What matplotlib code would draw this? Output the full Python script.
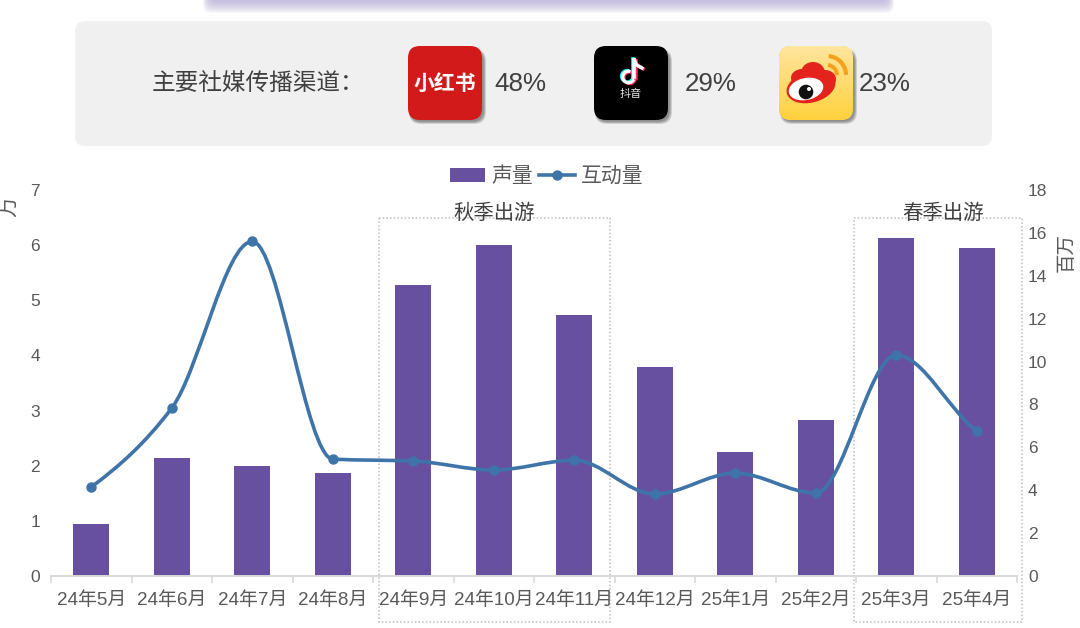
import numpy as np
import matplotlib
matplotlib.use("Agg")
import matplotlib.pyplot as plt
from matplotlib.patches import FancyBboxPatch, Rectangle, Ellipse, Circle, Arc, PathPatch, Patch
from matplotlib.path import Path
from matplotlib.lines import Line2D

plt.rcParams['font.family'] = ['Liberation Sans', 'Noto Sans CJK SC', 'DejaVu Sans']

# ---- data ----
months = ['24年5月', '24年6月', '24年7月', '24年8月', '24年9月', '24年10月',
          '24年11月', '24年12月', '25年1月', '25年2月', '25年3月', '25年4月']
voice = [0.94, 2.14, 2.00, 1.87, 5.28, 6.00, 4.73, 3.79, 2.25, 2.83, 6.13, 5.95]      # 万
interaction = [4.15, 7.83, 15.6, 5.45, 5.36, 4.94, 5.40, 3.82, 4.80, 3.87, 10.3, 6.76]  # 百万
left_ticks = [0, 1, 2, 3, 4, 5, 6, 7]
right_ticks = [0, 2, 4, 6, 8, 10, 12, 14, 16, 18]
share_labels = ['48%', '29%', '23%']
panel_title = '主要社媒传播渠道：'
season_labels = ['秋季出游', '春季出游']

BAR = '#67509f'
LINE = '#3f74a9'
GREY = '#595959'
DARK = '#404040'

W, H = 1080, 628
fig = plt.figure(figsize=(W / 100, H / 100), dpi=100, facecolor='white')

# ---- pixel-space backdrop ----
bg = fig.add_axes([0, 0, 1, 1], zorder=0)
bg.set_xlim(0, W)
bg.set_ylim(H, 0)
bg.axis('off')


def rbox(x0, y0, x1, y1, r, **kw):
    p = FancyBboxPatch((x0 + r, y0 + r), x1 - x0 - 2 * r, y1 - y0 - 2 * r,
                       boxstyle=f'round,pad={r},rounding_size={r}', linewidth=0, **kw)
    bg.add_patch(p)
    return p


# soft lavender shadow of the cropped banner at the top
for i in range(12):
    rbox(203 + i * 0.6, -30, 894 - i * 0.6, 13 - i * 1.0, 8, facecolor='#a79bd0', alpha=0.07)

# grey panel
rbox(75, 21, 992, 146, 10, facecolor='#f0f0f0')
bg.text(152, 84.5, panel_title, fontsize=17, color=DARK, va='center', ha='left')
for x, s in zip([494, 685, 859], share_labels):
    bg.text(x, 84, s, fontsize=18.7, color=DARK, va='center', ha='left')


def icon_base(x0, color):
    y0, y1, x1 = 46, 120, x0 + 74
    for i in range(5):
        rbox(x0 + 1 + i * 0.3, y0 + 3 + i * 0.3, x1 + 4 - i * 0.6, y1 + 4 - i * 0.6, 12,
             facecolor='#404040', alpha=0.14)
    return rbox(x0, y0, x1, y1, 12, facecolor=color)


# 小红书
icon_base(408, '#d21a1a')
bg.text(445, 84.5, '小红书', fontsize=15, fontweight='bold', color='white', ha='center', va='center')

# 抖音
icon_base(594, '#000000')
for dx, dy, c in [(-1.2, -0.8, '#25f4ee'), (1.2, 0.8, '#fe2c55'), (0, 0, '#ffffff')]:
    bg.add_patch(Arc((628.5 + dx, 77 + dy), 11.5, 11.5, theta1=0, theta2=290, color=c, lw=2.3))
    bg.add_line(Line2D([634.3 + dx, 634.3 + dx], [60 + dy, 77 + dy], color=c, lw=2.6))
    bg.add_line(Line2D([634.5 + dx, 636.5 + dx, 642 + dx], [60 + dy, 65 + dy, 68 + dy], color=c, lw=2.4))
bg.text(631, 94, '抖音', fontsize=8, color='#e6e6e6', ha='center', va='center')

# 微博
base = icon_base(779, '#ffd23f')
top = np.array([1.0, 0.90, 0.62]) * np.ones((64, 1, 3))
bot = np.array([1.0, 0.82, 0.24]) * np.ones((64, 1, 3))
t = np.linspace(0, 1, 64)[:, None, None]
im = bg.imshow(top * (1 - t) + bot * t, extent=(779, 853, 120, 46), aspect='auto', zorder=1.5)
im.set_clip_path(base)
bg.set_xlim(0, W)
bg.set_ylim(H, 0)
for (cx, cy, w, h, ang) in [(811, 87, 50, 31, -15), (813, 73, 24, 22, 0), (802, 78, 22, 18, 0),
                            (825, 79, 22, 18, 0)]:
    bg.add_patch(Ellipse((cx, cy), w, h, angle=ang, color='#e3231c', lw=0, zorder=2))
bg.add_patch(Ellipse((806, 89), 35, 22, angle=-12, color='white', lw=0, zorder=3))
bg.add_patch(Circle((806, 92), 7.3, color='#111111', lw=0, zorder=4))
bg.add_patch(Circle((809, 89), 2, color='white', lw=0, zorder=5))
for r, lw in [(19, 3.0), (10, 2.8)]:
    bg.add_patch(Arc((827, 75), r * 2, r * 2, theta1=275, theta2=360, color='#f7a11b', lw=lw, zorder=3))

# dotted frames of the two seasons
for (x0, x1) in [(379, 610), (853.5, 1022)]:
    bg.add_patch(Rectangle((x0, 218), x1 - x0, 404, fill=False, edgecolor='#bdbdbd',
                           linewidth=1.1, linestyle=(0, (1, 1.4))))
bg.text(494, 213.5, season_labels[0], fontsize=14.7, color=DARK, ha='center', va='center')
bg.text(943, 213.5, season_labels[1], fontsize=14.7, color=DARK, ha='center', va='center')

# ---- chart ----
ax = fig.add_axes([51 / W, 1 - 576 / H, 966 / W, 386 / H], zorder=2, facecolor='none')
x = np.arange(len(months))
bars = ax.bar(x, voice, width=0.45, color=BAR, linewidth=0)
ax.set_xlim(-0.5, len(months) - 0.5)
ax.set_ylim(0, 7)
ax.set_yticks(left_ticks)
ax.set_xticks(x)
ax.set_xticklabels(months)
ax.set_xticks(np.arange(len(months) + 1) - 0.5, minor=True)
ax.tick_params(axis='x', which='major', length=0, pad=11, labelsize=13.6, labelcolor=GREY)
ax.tick_params(axis='x', which='minor', length=5, width=1.2, color='#d9d9d9')
ax.tick_params(axis='y', length=0, pad=8, labelsize=12.5, labelcolor=GREY)
for s in ['top', 'left', 'right']:
    ax.spines[s].set_visible(False)
ax.spines['bottom'].set_color('#d9d9d9')
ax.spines['bottom'].set_linewidth(1.4)
ax.set_ylabel('万', fontsize=15, color=GREY, rotation=90, va='center', ha='center')
ax.yaxis.set_label_coords((9 - 51) / 966, (576 - 207) / 386)

ax2 = ax.twinx()
ax2.set_facecolor('none')
ax2.set_ylim(0, 18)
ax2.set_yticks(right_ticks)
ax2.tick_params(axis='y', length=0, pad=8, labelsize=12.5, labelcolor=GREY)
for s in ax2.spines.values():
    s.set_visible(False)
ax2.set_ylabel('百万', fontsize=14, color=GREY, rotation=90, va='center', ha='center')
ax2.yaxis.set_label_coords((1067 - 51) / 966, (576 - 253) / 386)

# smoothed line: monotone Hermite tangents turned into a Bezier path through the values
vals = np.asarray(interaction, dtype=float)
sec = np.diff(vals)
tan = np.zeros_like(vals)
tan[0] = sec[0] * 0.75
tan[-1] = sec[-1] * 0.75
for i in range(1, len(vals) - 1):
    if sec[i - 1] * sec[i] > 0:
        tan[i] = 2 * sec[i - 1] * sec[i] / (sec[i - 1] + sec[i])
verts = [(x[0], vals[0])]
codes = [Path.MOVETO]
for i in range(len(vals) - 1):
    verts += [(x[i] + 1 / 3, vals[i] + tan[i] / 3),
              (x[i + 1] - 1 / 3, vals[i + 1] - tan[i + 1] / 3),
              (x[i + 1], vals[i + 1])]
    codes += [Path.CURVE4] * 3
ax2.add_patch(PathPatch(Path(verts, codes), fill=False, edgecolor=LINE, linewidth=2.6, capstyle='round'))
ax2.plot(x, vals, linestyle='none', marker='o', markersize=6.5, color=LINE)

handles = [Patch(facecolor=BAR, label='声量'),
           Line2D([], [], color=LINE, lw=2.6, marker='o', markersize=6.5, label='互动量')]
fig.legend(handles=handles, loc='center', bbox_to_anchor=(546.5 / W, 1 - 176.5 / H), ncol=2, frameon=False,
           fontsize=15, labelcolor=GREY, handlelength=1.7, handleheight=0.7, handletextpad=0.3,
           columnspacing=0.3, borderpad=0, borderaxespad=0)

fig.savefig('out.png', dpi=100)
